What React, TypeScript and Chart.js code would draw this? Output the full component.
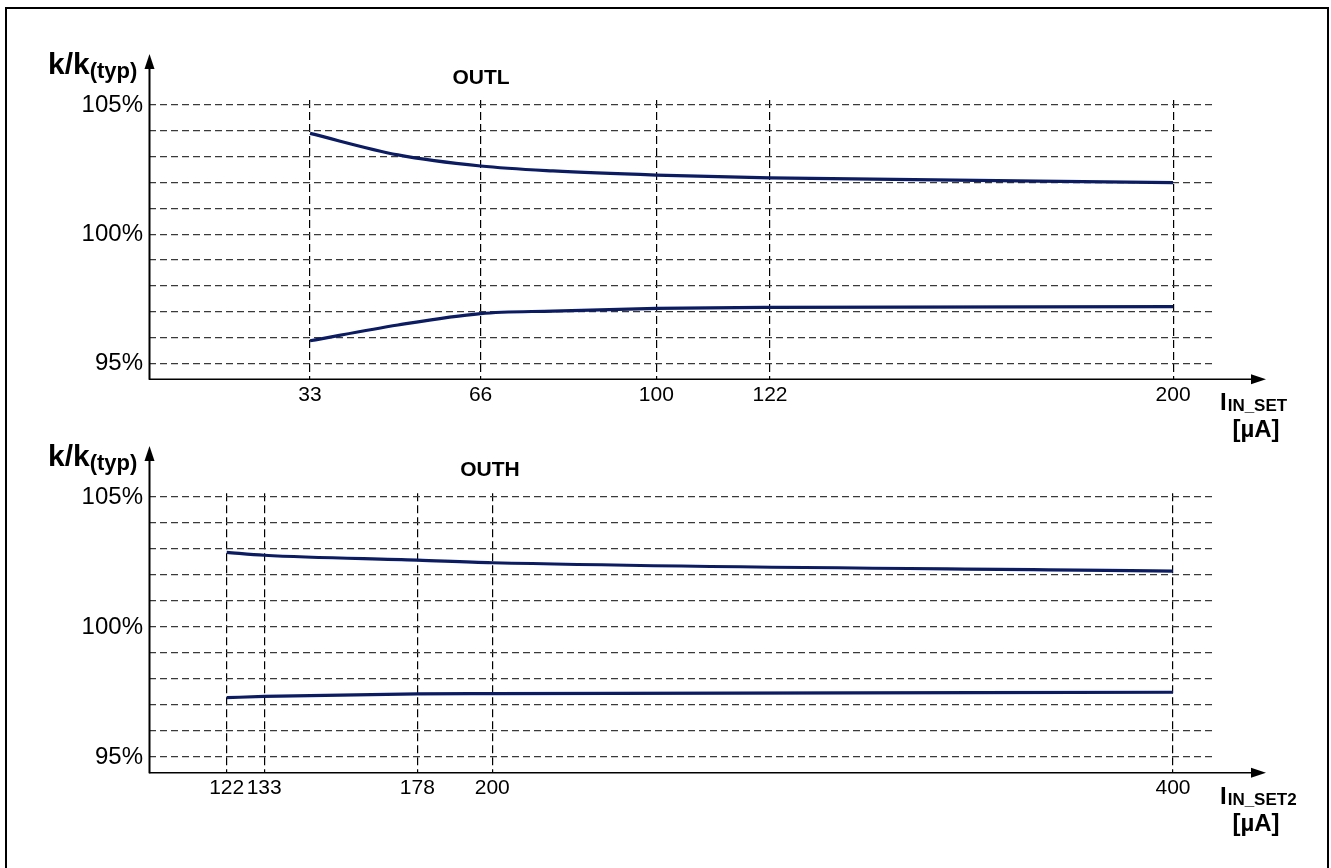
import React, { useEffect, useRef } from "react";
import { Chart, registerables } from "chart.js";

Chart.register(...registerables);

const FONT = "'Liberation Sans', Arial, Helvetica, sans-serif";

// ---- OUTL panel data ----
const outlCurrent = [33, 50, 66, 80, 100, 122, 200];
const outlUpper = [103.9, 103.07, 102.64, 102.45, 102.29, 102.18, 102.0];
const outlLower = [95.88, 96.49, 96.93, 97.03, 97.13, 97.17, 97.2];
const outlTicks = [33, 66, 100, 122, 200];

// ---- OUTH panel data ----
const outhCurrent = [122, 133, 178, 200, 400];
const outhUpper = [102.87, 102.76, 102.57, 102.47, 102.15];
const outhLower = [97.28, 97.33, 97.43, 97.44, 97.49];
const outhTicks = [122, 133, 178, 200, 400];

// ---- shared y axis ----
const yTicks = [95, 96, 97, 98, 99, 100, 101, 102, 103, 104, 105];
const yLabelled = [95, 100, 105];

const LINE_COLOR = "#0c1c63";

const decorPlugin = {
  id: "decor",
  afterDraw(chart: any, _args: any, opts: any) {
    const ctx = chart.ctx as CanvasRenderingContext2D;
    const { left, bottom } = chart.chartArea;
    const ys = chart.scales.y;
    const yTop = ys.getPixelForValue(105);
    ctx.save();
    ctx.fillStyle = "#000";
    ctx.strokeStyle = "#000";
    // y axis with arrow
    const ax = left + 0.5;
    ctx.lineWidth = 2;
    ctx.beginPath();
    ctx.moveTo(ax, bottom + 0.5);
    ctx.lineTo(ax, yTop - 40);
    ctx.stroke();
    ctx.beginPath();
    ctx.moveTo(ax, yTop - 51);
    ctx.lineTo(ax - 5, yTop - 36);
    ctx.lineTo(ax + 5, yTop - 36);
    ctx.closePath();
    ctx.fill();
    // x axis with arrow
    const tip = opts.arrowX;
    ctx.lineWidth = 1.5;
    ctx.beginPath();
    ctx.moveTo(left, bottom);
    ctx.lineTo(tip - 10, bottom);
    ctx.stroke();
    ctx.beginPath();
    ctx.moveTo(tip, bottom);
    ctx.lineTo(tip - 15, bottom - 5);
    ctx.lineTo(tip - 15, bottom + 5);
    ctx.closePath();
    ctx.fill();

    // y axis name k/k(typ)
    ctx.textAlign = "left";
    ctx.textBaseline = "alphabetic";
    ctx.font = `bold 30px ${FONT}`;
    ctx.fillText("k/k", 48, yTop - 31);
    const w = ctx.measureText("k/k").width;
    ctx.font = `bold 22px ${FONT}`;
    ctx.fillText("(typ)", 48 + w, yTop - 26.5);

    // title
    ctx.font = `bold 21px ${FONT}`;
    ctx.textAlign = "center";
    ctx.fillText(opts.title, opts.titleX, yTop - 21);

    // x axis name
    ctx.textAlign = "left";
    ctx.font = `bold 24px ${FONT}`;
    ctx.fillText("I", 1220, bottom + 31);
    const wi = ctx.measureText("I").width;
    ctx.font = `bold 17px ${FONT}`;
    ctx.fillText(opts.xSub, 1220 + wi + 1, bottom + 32);
    ctx.font = `bold 24px ${FONT}`;
    ctx.textAlign = "center";
    ctx.fillText("[µA]", 1256, bottom + 58);
    ctx.restore();
  },
};

function makeConfig(p: {
  current: number[];
  upper: number[];
  lower: number[];
  ticks: number[];
  xMin: number;
  xMax: number;
  yMin: number;
  yMax: number;
  padTop: number;
  padBottom: number;
  title: string;
  titleX: number;
  xSub: string;
}): any {
  const mk = (vals: number[]) => p.current.map((x, i) => ({ x, y: vals[i] }));
  const ds = (vals: number[]) => ({
    data: mk(vals),
    borderColor: LINE_COLOR,
    borderWidth: 3.2,
    pointRadius: 0,
    fill: false,
    cubicInterpolationMode: "monotone",
  });
  return {
    type: "line",
    data: { datasets: [ds(p.upper), ds(p.lower)] },
    plugins: [decorPlugin],
    options: {
      animation: false,
      responsive: false,
      events: [],
      layout: { padding: { left: 0, right: 115, top: p.padTop, bottom: p.padBottom } },
      plugins: {
        legend: { display: false },
        tooltip: { enabled: false },
        title: { display: false },
        decor: { arrowX: 1266, title: p.title, titleX: p.titleX, xSub: p.xSub },
      },
      scales: {
        x: {
          type: "linear",
          min: p.xMin,
          max: p.xMax,
          afterBuildTicks: (s: any) => {
            s.ticks = p.ticks.map((v) => ({ value: v }));
          },
          afterFit: (s: any) => {
            s.height = 40;
          },
          grid: { color: "#000", lineWidth: 1.2, drawTicks: false },
          border: { display: false, dash: [8, 4] },
          ticks: {
            font: { family: FONT, size: 21 },
            color: "#000",
            padding: 3,
            maxRotation: 0,
            autoSkip: false,
            callback: (v: any) => String(v),
          },
        },
        y: {
          type: "linear",
          min: p.yMin,
          max: p.yMax,
          afterBuildTicks: (s: any) => {
            s.ticks = yTicks.map((v) => ({ value: v }));
          },
          afterFit: (s: any) => {
            s.width = 149;
          },
          grid: { color: "#3a3a3a", lineWidth: 1.2, drawTicks: false },
          border: { display: false, dash: [7, 4] },
          ticks: {
            font: { family: FONT, size: 24 },
            color: "#000",
            padding: 6,
            autoSkip: false,
            callback: (v: any) => (yLabelled.includes(v) ? `${v}%` : ""),
          },
        },
      },
    },
  };
}

const topConfig = () =>
  makeConfig({
    current: outlCurrent,
    upper: outlUpper,
    lower: outlLower,
    ticks: outlTicks,
    xMin: 1.84,
    xMax: 208.3,
    yMin: 94.389,
    yMax: 105.193,
    padTop: 100,
    padBottom: 40.7,
    title: "OUTL",
    titleX: 481,
    xSub: "IN_SET",
  });

const bottomConfig = () =>
  makeConfig({
    current: outhCurrent,
    upper: outhUpper,
    lower: outhLower,
    ticks: outhTicks,
    xMin: 99.17,
    xMax: 412.63,
    yMin: 94.396,
    yMax: 105.142,
    padTop: 53.3,
    padBottom: 55.3,
    title: "OUTH",
    titleX: 490,
    xSub: "IN_SET2",
  });

function Panel({ build, top, height }: { build: () => any; top: number; height: number }) {
  const ref = useRef<HTMLCanvasElement>(null);
  useEffect(() => {
    const chart = new Chart(ref.current as HTMLCanvasElement, build());
    return () => chart.destroy();
  }, []);
  return (
    <canvas
      ref={ref}
      width={1331}
      height={height}
      style={{ position: "absolute", left: 0, top, width: 1331, height, display: "block" }}
    />
  );
}

export default function App() {
  return (
    <div
      style={{
        position: "fixed",
        left: 0,
        top: 0,
        width: 1331,
        height: 868,
        overflow: "hidden",
        background: "#fff",
      }}
    >
      <div
        style={{
          position: "absolute",
          left: 5,
          top: 7,
          width: 1320,
          height: 900,
          border: "2px solid #000",
        }}
      />
      <Panel build={topConfig} top={0} height={460} />
      <Panel build={bottomConfig} top={440} height={428} />
    </div>
  );
}
